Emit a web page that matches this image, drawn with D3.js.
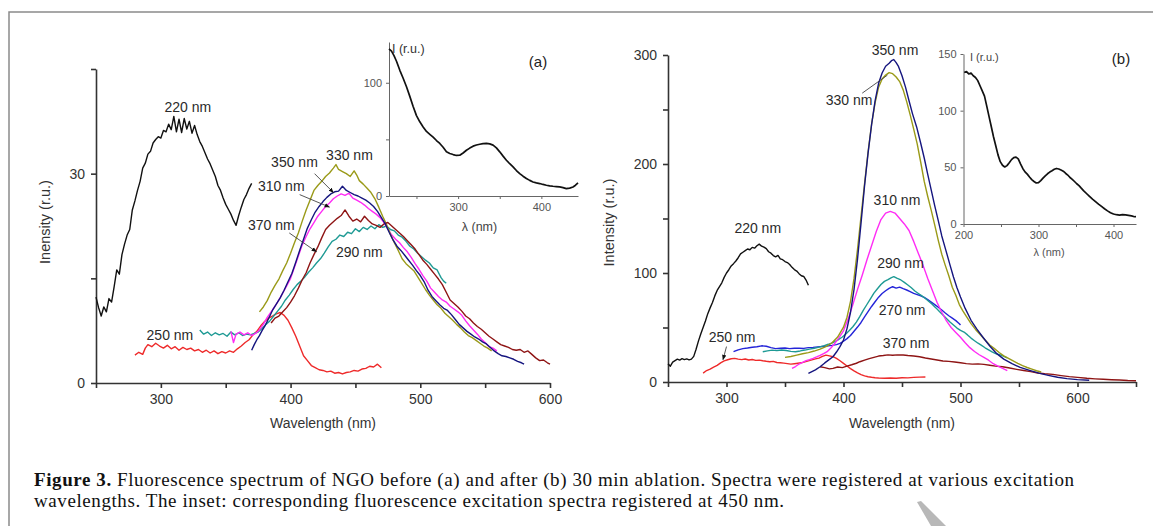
<!DOCTYPE html>
<html><head><meta charset="utf-8">
<script src="https://cdn.jsdelivr.net/npm/d3@7"></script>
<style>
body{margin:0;background:#fff;}
svg{display:block;}
text{font-family:"Liberation Sans",Arial,sans-serif;}
</style>
</head><body>
<svg id="c" width="1153" height="526"></svg>
<script>
// ---------------- DATA: panel (a), before ablation ----------------
const a220 = [[250,12.3],[252,10.8],[254,9.6],[256,10.9],[258,10.2],[260,12.1],[262,11.6],[264,13.8],[266,16.2],[268,15.6],[270,18.4],[272,19.9],[274,21.2],[276,22.0],[278,24.8],[280,26.1],[282,27.6],[284,28.9],[286,30.8],[288,31.5],[290,32.8],[292,33.2],[294,34.4],[296,34.9],[298,35.3],[300,35.1],[302,36.2],[304,36.0],[306,37.1],[308,36.3],[310,38.2],[312,36.0],[314,37.8],[316,35.9],[318,37.9],[320,36.4],[322,37.5],[324,35.8],[326,36.9],[328,35.6],[330,34.6],[332,33.9],[334,33.0],[336,32.1],[338,31.4],[340,30.5],[342,29.6],[344,28.3],[346,27.6],[348,26.5],[350,25.6],[352,24.9],[354,24.2],[356,23.3],[358,22.6],[360,24.0],[362,25.2],[364,26.3],[366,27.0],[368,27.9],[370,28.6]];
const a250 = [[280,4.0],[283,4.4],[286,4.1],[288,5.0],[290,5.5],[293,5.2],[296,5.7],[299,5.3],[302,5.0],[305,5.4],[308,4.9],[311,5.2],[314,4.7],[317,5.1],[320,4.8],[323,5.0],[326,4.6],[329,4.8],[332,4.4],[335,4.7],[338,4.3],[341,4.6],[344,4.2],[347,4.5],[350,4.3],[353,4.6],[356,4.4],[359,4.9],[362,5.3],[365,5.8],[368,6.2],[371,6.9],[374,7.4],[377,8.2],[380,8.8],[383,9.3],[386,9.6],[389,9.9],[392,10.1],[395,9.7],[398,9.0],[401,7.9],[404,6.7],[407,5.3],[410,3.9],[413,3.2],[416,2.5],[419,2.2],[422,1.9],[425,1.8],[428,1.6],[431,1.7],[434,1.4],[437,1.5],[440,1.3],[443,1.5],[446,1.6],[449,1.8],[452,1.7],[455,2.0],[458,2.1],[461,2.4],[464,2.3],[467,2.7],[470,2.2]];
const a290 = [[330,7.6],[333,7.0],[336,7.3],[339,6.8],[342,7.2],[345,6.9],[348,7.1],[351,6.7],[354,7.3],[357,6.9],[360,7.2],[363,6.8],[366,7.0],[369,6.9],[372,7.1],[375,7.3],[378,7.8],[381,8.4],[384,8.9],[387,9.6],[390,10.3],[393,11.0],[396,11.9],[399,12.6],[402,13.4],[405,14.1],[408,14.6],[411,15.2],[414,15.9],[417,16.5],[420,17.2],[423,17.8],[426,18.6],[429,19.5],[432,20.3],[435,20.6],[438,21.2],[441,21.0],[444,21.6],[447,21.4],[450,22.1],[453,21.7],[456,22.3],[459,22.0],[462,22.5],[465,22.1],[468,22.7],[471,22.3],[474,22.5],[477,22.0],[480,21.8],[483,21.2],[486,20.9],[489,20.3],[492,19.6],[495,19.2],[498,18.6],[501,18.1],[504,17.6],[507,17.2],[510,16.5],[513,16.2],[516,15.1],[518,14.6],[520,14.3]];
const a310 = [[354,7.4],[356,5.8],[358,7.0],[361,7.3],[364,6.9],[367,7.2],[370,6.8],[373,7.1],[376,7.6],[379,8.4],[382,9.4],[385,10.2],[388,11.0],[391,11.9],[394,12.9],[397,13.9],[400,15.0],[403,16.6],[406,18.2],[409,19.8],[412,21.0],[415,22.1],[418,23.0],[421,23.9],[424,24.6],[427,25.3],[430,25.8],[433,26.4],[436,26.8],[439,27.1],[442,26.9],[445,27.2],[448,26.5],[451,26.2],[454,25.9],[457,25.5],[460,25.0],[463,24.6],[466,24.2],[469,23.7],[472,23.0],[475,22.1],[478,21.2],[481,20.6],[484,20.1],[487,19.4],[490,18.8],[493,18.0],[496,17.1],[499,16.3],[502,15.4],[505,14.6],[508,13.6],[511,13.0],[514,12.4],[517,11.9],[520,11.6],[523,11.0],[526,10.6],[529,10.2],[532,9.7],[535,8.9],[538,8.2],[541,7.6],[544,7.0],[547,6.3],[550,5.8],[553,5.2],[556,5.0],[559,4.6]];
const a330 = [[376,10.2],[379,10.9],[382,11.8],[385,13.0],[388,14.0],[391,14.9],[394,16.1],[397,17.2],[400,18.6],[403,20.1],[406,21.5],[409,23.2],[412,24.8],[415,26.2],[418,27.6],[421,28.3],[424,28.9],[427,29.6],[430,30.1],[433,30.8],[435,31.3],[437,30.6],[440,30.3],[443,30.0],[446,29.6],[449,30.4],[451,29.8],[453,29.0],[456,28.5],[459,27.9],[462,27.3],[465,26.4],[468,25.2],[471,23.9],[474,22.7],[477,21.3],[480,20.1],[483,19.0],[486,17.8],[489,17.1],[492,16.6],[495,16.1],[498,15.2],[501,14.3],[504,13.4],[507,12.6],[510,11.9],[513,11.2],[516,10.7],[519,10.0],[522,9.5],[525,9.0],[528,8.4],[531,7.9],[534,7.3],[537,6.8],[540,6.5],[543,6.1],[546,5.7],[549,5.3],[552,5.0],[555,4.6]];
const a350 = [[370,4.7],[372,5.5],[374,6.2],[376,6.8],[378,7.5],[380,8.1],[383,9.2],[386,10.4],[389,11.3],[392,12.2],[395,13.3],[398,14.5],[401,15.7],[404,17.3],[407,19.0],[410,20.6],[413,22.2],[416,23.4],[419,24.5],[422,25.3],[425,26.0],[428,26.6],[431,27.1],[434,27.4],[437,27.5],[440,28.2],[443,27.6],[446,27.3],[449,27.0],[452,26.8],[455,26.5],[458,26.2],[461,25.8],[464,25.3],[467,24.6],[470,23.7],[473,22.8],[476,21.6],[479,20.5],[482,19.6],[485,19.0],[488,18.3],[491,17.6],[494,16.9],[497,16.1],[500,15.4],[503,14.5],[506,13.3],[509,12.4],[512,11.8],[515,11.2],[518,10.7],[521,10.4],[524,9.8],[527,9.1],[530,8.4],[533,7.9],[536,7.4],[539,7.0],[542,6.6],[545,6.3],[548,5.9],[551,5.6],[554,5.1],[557,4.6],[560,4.2],[563,3.9],[566,3.8],[569,3.6],[572,3.4],[575,3.1],[578,2.9],[580,2.7]];
const a370 = [[385,8.6],[388,9.3],[391,9.6],[394,10.2],[397,10.8],[400,11.6],[403,12.5],[406,13.6],[409,14.8],[412,15.8],[415,17.2],[418,18.4],[421,19.5],[424,20.8],[427,22.0],[430,22.6],[433,23.1],[436,23.6],[439,24.0],[442,24.8],[445,23.9],[448,23.2],[451,23.5],[454,23.1],[457,23.9],[460,23.3],[463,22.8],[466,22.6],[469,22.3],[472,22.8],[475,23.0],[478,22.5],[481,22.0],[484,21.5],[487,21.0],[490,20.4],[493,19.8],[496,19.2],[499,18.4],[502,17.6],[505,17.0],[508,16.3],[511,15.6],[514,14.9],[517,14.1],[520,13.0],[523,11.9],[526,11.4],[529,10.9],[532,10.3],[535,9.6],[538,9.2],[541,8.6],[544,8.1],[547,7.7],[550,7.2],[553,6.7],[556,6.3],[559,5.9],[562,5.5],[565,5.3],[568,5.1],[571,4.8],[574,4.7],[577,4.8],[580,4.4],[583,4.6],[586,4.1],[589,3.6],[592,3.2],[595,3.3],[598,2.9],[600,2.7]];
// inset (a): excitation spectrum registered at 450 nm
const insetA = [[217,130],[220,128],[223,124],[226,119],[230,111],[234,104],[238,96.5],[242,88],[246,79],[250,71],[254,65.5],[258,61],[262,57],[266,54.5],[270,52],[274,49],[278,46.4],[282,43],[286,39],[290,37.5],[294,36.6],[298,35.8],[302,36],[306,38],[310,40.4],[314,42.3],[318,44],[322,45],[326,45.7],[330,46.3],[334,46.4],[338,46],[342,44.9],[346,42.5],[350,39],[354,35.2],[358,31.6],[362,28.5],[366,25.7],[370,22.5],[374,19.8],[378,17.5],[382,15.4],[386,13.8],[390,12.4],[394,11.6],[398,11],[402,10.2],[406,9.5],[410,9],[414,8.6],[418,8.3],[422,8],[426,7.4],[430,6.5],[434,7],[438,8],[441,9.5],[444,11.5]];

// ---------------- DATA: panel (b), after 30 min ablation ----------------
const b220 = [[250,16.8],[252,14.5],[254,18.2],[256,19.6],[258,20.9],[260,20.1],[262,21.4],[264,20.5],[266,21.2],[268,20.3],[270,21.0],[272,23.5],[274,30.0],[276,37.5],[278,44],[280,50],[282,56],[284,62.7],[286,68],[288,73],[290,79],[292,84],[294,87.5],[296,91],[298,96],[300,100],[302,103],[304,106.5],[306,108.6],[308,111],[310,114],[312,117.5],[314,119],[316,120.5],[318,122],[320,121.3],[322,123.5],[324,122.8],[326,125],[328,126.5],[330,124.6],[332,123.8],[334,122.3],[336,119.5],[338,118.2],[340,116],[342,114.8],[344,116.1],[346,113],[348,112.2],[350,110.5],[352,109.6],[354,107.8],[356,105.2],[358,103.1],[360,101.8],[362,99.4],[364,97.5],[366,96.8],[368,93.5],[370,88.7]];
const b250 = [[280,8.2],[283,10.5],[286,11.8],[289,13.6],[292,15.2],[295,17.6],[298,19.4],[301,20.4],[304,21.3],[307,21.7],[310,21.0],[313,20.5],[316,21.1],[319,20.2],[322,20.6],[325,19.8],[328,20.1],[331,19.5],[334,19.0],[337,18.6],[340,18.9],[343,17.9],[346,17.6],[349,17.3],[352,16.9],[355,16.4],[358,16.8],[361,17.2],[364,17.6],[367,18.4],[370,19.4],[373,20.3],[376,21.2],[379,21.9],[382,23.5],[385,24.6],[388,24.0],[391,23.2],[394,21.6],[397,19.5],[400,17.1],[403,14.7],[406,12.3],[409,10.2],[412,8.4],[415,6.8],[418,5.6],[421,4.8],[424,4.3],[427,3.9],[430,3.7],[435,3.5],[440,3.7],[445,3.5],[450,3.9],[455,3.8],[460,4.2],[465,4.5],[470,4.6]];
const b270 = [[306,27.8],[310,29.5],[314,30.6],[318,31.2],[322,31.9],[326,32.3],[330,33.2],[334,32.8],[338,31.5],[342,30.6],[346,30.9],[350,31.2],[354,30.6],[358,30.9],[362,31.0],[366,30.8],[370,31.5],[374,31.8],[378,32.2],[382,32.6],[386,33.0],[390,33.6],[394,34.3],[397,35.5],[400,37.4],[403,39.8],[406,42.6],[409,46.5],[412,50.4],[415,54.6],[418,59.7],[421,64.5],[424,69.3],[427,73.6],[430,77.8],[433,81.2],[436,83.7],[439,85.9],[442,87.4],[445,86.1],[448,87.0],[451,85.6],[454,84.4],[457,82.9],[460,81.3],[463,80.2],[466,79.1],[469,77.6],[472,75.5],[475,73.3],[478,71.0],[481,68.6],[484,66.0],[487,63.3],[490,60.8],[493,58.6],[496,56.3],[499,53.5],[500,52.3]];
const b290 = [[331,27.8],[335,28.6],[339,29.2],[343,28.8],[347,29.4],[351,28.9],[355,28.1],[359,27.8],[363,28.5],[367,29.3],[371,30.2],[375,31.0],[379,32.0],[383,33.2],[387,34.6],[391,36.2],[395,38.4],[399,41.3],[402,44.1],[405,47.3],[408,50.7],[411,55.0],[414,60.2],[417,66.0],[420,71.1],[423,76.3],[426,81.5],[429,85.6],[432,89.4],[435,92.3],[438,94.0],[441,95.8],[443,96.6],[446,95.0],[449,93.6],[452,91.4],[455,89.0],[458,86.4],[461,83.5],[464,81.2],[467,79.0],[470,76.6],[473,73.8],[476,71.2],[479,68.0],[482,64.6],[485,61.5],[488,58.3],[491,55.1],[494,52.3],[497,49.5],[500,47.4],[503,45.8],[506,43.2],[509,40.3],[512,37.9],[515,35.6],[518,33.6],[521,31.4],[524,29.5],[527,27.6],[530,26.0],[534,24.8],[537,23.5],[540,22.2]];
const b310 = [[356,12.5],[359,14.2],[362,16.5],[365,18.0],[368,19.6],[371,20.5],[374,21.7],[377,23.0],[380,24.4],[383,26.0],[386,27.8],[389,31.0],[392,34.6],[396,40.5],[400,47.0],[404,58.0],[408,71.0],[412,85.0],[416,98.0],[420,112.0],[424,125.0],[428,138.0],[432,149.0],[436,155.0],[440,156.5],[444,155.0],[448,150.0],[452,145.0],[456,139.0],[460,129.0],[464,118.0],[468,107.0],[472,95.0],[476,84.0],[480,73.0],[484,64.0],[488,56.0],[492,50.0],[496,45.5],[500,41.0],[504,36.0],[508,31.5],[512,28.0],[516,25.0],[520,22.5],[524,20.0],[528,16.8],[532,14.5],[536,12.5],[540,10.5]];
const b330 = [[350,22.6],[355,23.4],[360,24.6],[365,25.9],[370,27.0],[375,28.4],[380,30.1],[385,32.5],[390,35.8],[395,41.2],[400,50.3],[403,59.5],[406,74.0],[409,95.0],[412,122.0],[415,152.0],[418,182.0],[421,211.0],[424,236.5],[427,256.0],[430,270.5],[433,278.0],[436,281.6],[439,283.8],[442,282.9],[445,279.8],[448,275.6],[451,268.0],[454,257.2],[457,245.1],[460,232.0],[463,218.5],[466,201.6],[469,184.0],[472,170.2],[475,157.5],[478,144.0],[481,130.0],[484,117.2],[487,107.0],[490,97.5],[493,87.0],[496,79.5],[499,71.0],[502,65.2],[505,60.1],[509,53.5],[513,48.0],[517,43.3],[521,38.5],[525,34.0],[529,30.6],[533,27.1],[537,24.0],[541,21.6],[545,19.3],[549,17.0],[553,15.0],[557,13.3],[561,11.8],[565,10.3],[569,9.2]];
const b350 = [[370,8.0],[373,9.6],[376,11.2],[380,14.0],[384,17.5],[388,20.8],[391,23.2],[394,27.5],[397,32.4],[400,38.5],[403,49.0],[406,64.0],[409,85.0],[412,113.0],[415,146.0],[418,180.0],[421,210.0],[424,236.0],[427,258.0],[430,274.0],[433,283.5],[436,289.7],[439,292.4],[441,294.8],[443,295.8],[445,293.0],[447,289.5],[450,281.0],[453,270.5],[456,258.0],[459,246.0],[462.5,234.0],[466,219.0],[469,205.5],[472,190.5],[475,176.0],[478,161.5],[481,148.0],[484,134.0],[487.5,120.8],[491,107.5],[494,96.3],[497,86.5],[500,78.0],[504,67.5],[509,56.6],[514,48.5],[519,41.3],[525,33.0],[531,26.0],[537,21.0],[544,16.8],[551,13.4],[559,10.7],[567,8.1],[575,6.1],[583,4.4],[591,3.1],[600,2.2],[610,1.6]];
const b370 = [[380,14.0],[384,13.2],[388,12.0],[391,12.5],[395,13.8],[399,13.2],[403,14.6],[407,15.8],[411,17.2],[414,18.6],[418,20.1],[422,21.5],[426,22.6],[430,23.8],[434,24.3],[438,24.9],[442,24.5],[446,24.9],[451,24.8],[455,24.3],[460,23.8],[465,23.2],[470,22.0],[475,21.1],[480,20.2],[485,19.3],[490,18.9],[495,18.4],[500,17.6],[505,16.9],[510,16.4],[515,16.6],[520,16.2],[525,15.4],[530,14.6],[536,14.0],[542,12.8],[548,11.6],[554,10.5],[560,9.5],[566,8.3],[572,7.6],[579,7.0],[586,5.9],[593,4.9],[600,4.2],[608,3.4],[615,2.9],[622,2.5],[629,2.1],[636,1.8],[643,1.4],[650,1.2]];
// inset (b)
const insetB = [[201,133.6],[204,134.5],[207,132.4],[210,133.2],[213,130.8],[216,129.3],[219,126.5],[222,122.0],[225,117.5],[228,112.8],[231,104.0],[234,95.0],[237,86.0],[240,77.0],[243,69.0],[246,61.0],[249,55.0],[252,51.8],[255,50.3],[258,51.5],[261,54.0],[264,56.8],[267,58.6],[270,59.0],[273,57.4],[276,53.0],[279,49.0],[282,46.0],[285,44.0],[288,41.5],[291,39.2],[294,37.5],[297,36.2],[300,36.5],[303,38.3],[306,40.5],[309,42.5],[312,44.3],[315,45.8],[318,47.0],[321,48.3],[324,49.0],[327,48.5],[330,47.6],[333,46.6],[336,44.8],[339,43.2],[342,41.0],[345,39.4],[348,37.5],[351,35.5],[354,33.8],[357,31.6],[360,29.5],[364,26.9],[368,24.4],[372,22.0],[376,19.8],[380,17.5],[384,15.5],[388,13.5],[392,11.6],[396,10.0],[400,8.8],[404,8.2],[408,7.9],[412,8.3],[416,8.0],[420,7.6],[424,7.2],[428,6.4],[430,6.5]];

// tick values and labels
const ticksAx = [250,300,350,400,450,500,550,600];
const ticksAy = [0,15,30,45];
const ticksBx = [250,300,350,400,450,500,550,600,650];
const ticksBy = [0,50,100,150,200,250,300];
const ticksIAx = [250,300,350,400];
const ticksIAy = [0,50,100];
const ticksIBx = [200,250,300,350,400];
const ticksIBy = [0,50,100,150];
const captionBold = "Figure 3.";
const captionLine1 = " Fluorescence spectrum of NGO before (a) and after (b) 30 min ablation. Spectra were registered at various excitation";
const captionLine2 = "wavelengths. The inset: corresponding fluorescence excitation spectra registered at 450 nm.";

// ---------------- DRAWING ----------------
const C = {k:"#111111", red:"#ee2a2a", teal:"#1e9a94", mag:"#ff2cf5", olive:"#9a9a18", navy:"#15157f", dred:"#8e1414", blue:"#2424d8"};
const svg = d3.select("#c");
const defs = svg.append("defs");
defs.append("marker").attr("id","ar").attr("viewBox","0 0 10 10").attr("refX",9).attr("refY",5)
  .attr("markerWidth",6).attr("markerHeight",6).attr("orient","auto")
  .append("path").attr("d","M0,1 L10,5 L0,9 z").attr("fill","#111");

// frame
svg.append("path").attr("d","M9,526 L9,12 L1153,12").attr("fill","none").attr("stroke","#8a8a8a").attr("stroke-width",1.5);

function axes(g, x, y, xt, yt, xlab, ylab, opt){
  const ax = g.append("g").attr("transform",`translate(0,${y.range()[0]})`)
    .call(d3.axisBottom(x).tickValues(xt).tickFormat(d=>xlab(d)).tickSize(opt.ts).tickSizeOuter(0).tickPadding(opt.tp));
  const ay = g.append("g").attr("transform",`translate(${x.range()[0]},0)`)
    .call(d3.axisLeft(y).tickValues(yt).tickFormat(d=>ylab(d)).tickSize(opt.ts).tickSizeOuter(0).tickPadding(opt.tpy||opt.tp));
  [ax,ay].forEach(a=>{
    a.select(".domain").attr("stroke",opt.col).attr("stroke-width",opt.sw);
    a.selectAll(".tick line").attr("stroke",opt.col).attr("stroke-width",opt.sw);
    a.selectAll(".tick text").attr("fill",opt.tcol).attr("font-size",opt.fs).attr("font-family","Liberation Sans, Arial, sans-serif");
  });
}
function curve(g, x, y, data, color, w){
  g.append("path").datum(data).attr("fill","none").attr("stroke",color).attr("stroke-width",w)
    .attr("stroke-linejoin","round")
    .attr("d", d3.line().x(d=>x(d[0])).y(d=>y(d[1])));
}
function label(g, x, y, t, nm, v, fs, anchor){
  g.append("text").attr("x",x(nm)).attr("y",y(v)).attr("dy","0.35em").attr("text-anchor",anchor||"middle")
    .attr("font-size",fs||14).attr("fill","#2a2a2a").text(t);
}
function arrow(g, x, y, n1, v1, n2, v2, head){
  const l = g.append("line").attr("x1",x(n1)).attr("y1",y(v1)).attr("x2",x(n2)).attr("y2",y(v2))
    .attr("stroke","#444").attr("stroke-width",0.9);
  if(head) l.attr("marker-end","url(#ar)");
}

// ----- Panel (a)
const gA = svg.append("g");
const xA = d3.scaleLinear().domain([250,600]).range([96,550]);
const yA = d3.scaleLinear().domain([0,45]).range([383,69]);
axes(gA, xA, yA, ticksAx, ticksAy, d=>d%100===0?d:"", d=>d%30===0?d:"",
  {ts:5,tp:6,col:"#333",sw:1.6,tcol:"#333",fs:14});
[[a220,C.k],[a250,C.red],[a290,C.teal],[a310,C.mag],[a330,C.olive],[a370,C.dred],[a350,C.navy]]
  .forEach(([d,c])=>curve(gA,xA,yA,d,c,1.4));
gA.append("text").attr("x",d3.mean(xA.range())).attr("y",428).attr("text-anchor","middle")
  .attr("font-size",14).attr("fill","#333").text("Wavelength (nm)");
gA.append("text").attr("transform",`translate(45,${d3.mean(yA.range())-4}) rotate(-90)`).attr("text-anchor","middle")
  .attr("dy","0.35em").attr("font-size",14.5).attr("fill","#333").text("Inensity (r.u.)");
label(gA,xA,yA,"220 nm",320.8,39.6);
label(gA,xA,yA,"330 nm",445.4,32.7);
label(gA,xA,yA,"350 nm",403,31.6);
label(gA,xA,yA,"310 nm",392.8,28.2);
label(gA,xA,yA,"370 nm",385.2,22.7);
label(gA,xA,yA,"290 nm",453,18.8);
label(gA,xA,yA,"250 nm",307,6.9);
arrow(gA,xA,yA,418.5,30.0,433,27.3,true);
arrow(gA,xA,yA,407,27,430,25.2,true);
arrow(gA,xA,yA,399,21.5,420,18.8,true);

// inset (a)
const gIA = svg.append("g");
const xIA = d3.scaleLinear().domain([217,444]).range([389,578]);
const yIA = d3.scaleLinear().domain([0,136]).range([196,42]);
axes(gIA, xIA, yIA, ticksIAx, ticksIAy, d=>d%100===0?d:"", d=>d%100===0?d:"",
  {ts:3,tp:4,col:"#666",sw:1,tcol:"#555",fs:11});
curve(gIA,xIA,yIA,insetA,"#111",1.7);
gIA.append("text").attr("x",392).attr("y",49).attr("dy","0.35em").attr("font-size",12.5).attr("fill","#333").text("I (r.u.)");
gIA.append("text").attr("x",538).attr("y",62).attr("dy","0.35em").attr("text-anchor","middle").attr("font-size",15).attr("fill","#222").text("(a)");
gIA.append("text").attr("x",d3.mean(xIA.range())-4).attr("y",227).attr("dy","0.35em").attr("text-anchor","middle").attr("font-size",12.5).attr("fill","#444").text("λ (nm)");

// ----- Panel (b)
const gB = svg.append("g");
const xB = d3.scaleLinear().domain([250,650]).range([668,1136]);
const yB = d3.scaleLinear().domain([0,300]).range([382,55]);
axes(gB, xB, yB, ticksBx, ticksBy, d=>d%100===0?d:"", d=>d%100===0?d:"",
  {ts:5,tp:6,col:"#333",sw:1.6,tcol:"#333",fs:14});
[[b220,C.k],[b250,C.red],[b370,C.dred],[b270,C.blue],[b290,C.teal],[b310,C.mag],[b330,C.olive],[b350,C.navy]]
  .forEach(([d,c])=>curve(gB,xB,yB,d,c,1.4));
gB.append("text").attr("x",902).attr("y",428).attr("text-anchor","middle")
  .attr("font-size",14).attr("fill","#333").text("Wavelength (nm)");
gB.append("text").attr("transform",`translate(609,${d3.mean(yB.range())+4}) rotate(-90)`).attr("text-anchor","middle")
  .attr("dy","0.35em").attr("font-size",14.5).attr("fill","#333").text("Intensity (r.u.)");
label(gB,xB,yB,"350 nm",444,304.6);
label(gB,xB,yB,"330 nm",404.7,258.7);
label(gB,xB,yB,"310 nm",445.7,167);
label(gB,xB,yB,"290 nm",448.7,109.2);
label(gB,xB,yB,"270 nm",450,66);
label(gB,xB,yB,"370 nm",453.4,35.8);
label(gB,xB,yB,"250 nm",304.7,41.3);
label(gB,xB,yB,"220 nm",326.7,141.3);
arrow(gB,xB,yB,416,265,437.5,281.5,false);
arrow(gB,xB,yB,300,32.5,297,20.5,true);

// inset (b)
const gIB = svg.append("g");
const xIB = d3.scaleLinear().domain([200,430]).range([963.5,1136]);
const yIB = d3.scaleLinear().domain([0,150]).range([224,54]);
axes(gIB, xIB, yIB, ticksIBx, ticksIBy, d=>d%100===0?d:"", d=>d,
  {ts:3,tp:4,col:"#666",sw:1,tcol:"#555",fs:11});
curve(gIB,xIB,yIB,insetB,"#111",1.7);
gIB.append("text").attr("x",970).attr("y",57).attr("dy","0.35em").attr("font-size",11).attr("fill","#444").text("I (r.u.)");
gIB.append("text").attr("x",1121).attr("y",59).attr("dy","0.35em").attr("text-anchor","middle").attr("font-size",15).attr("fill","#222").text("(b)");
gIB.append("text").attr("x",1049).attr("y",252).attr("dy","0.35em").attr("text-anchor","middle").attr("font-size",11).attr("fill","#555").text("λ (nm)");

// ----- caption
const cap = svg.append("g").attr("font-size",19).attr("fill","#111");
const t1 = cap.append("text").attr("x",34).attr("y",486).style("font-family","Liberation Serif, serif")
  .attr("textLength",1040).attr("lengthAdjust","spacing");
t1.append("tspan").attr("font-weight","bold").text(captionBold);
t1.append("tspan").text(captionLine1);
cap.append("text").attr("x",34).attr("y",507).style("font-family","Liberation Serif, serif")
  .attr("textLength",750).attr("lengthAdjust","spacing").text(captionLine2);

// scanner watermark stroke
svg.append("path").attr("d","M917,502 L921,501 L946,526 L931,526 Z").attr("fill","#b8b8b8");
</script>
</body></html>
